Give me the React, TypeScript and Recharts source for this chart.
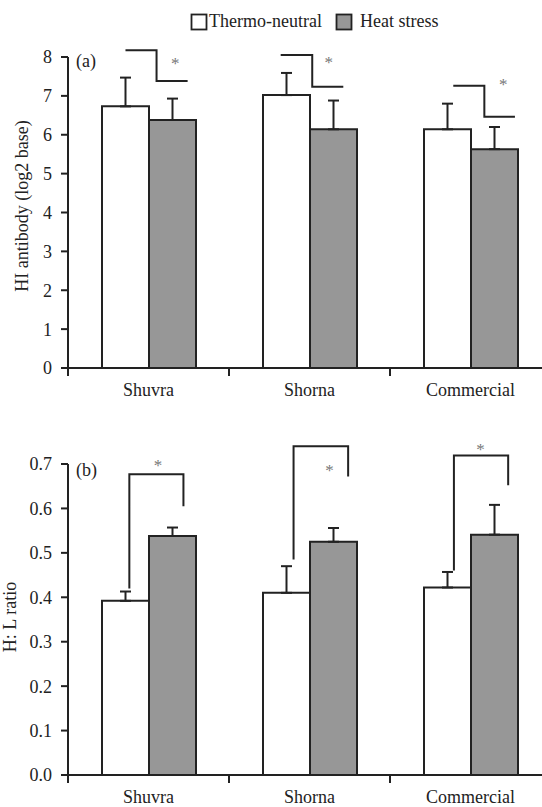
import React from 'react';
import { BarChart, Bar, XAxis, YAxis, ErrorBar, Label, ScatterChart, Scatter } from 'recharts';

const categories = ['Shuvra', 'Shorna', 'Commercial'];
const seriesNames = ['Thermo-neutral', 'Heat stress'];

const hiThermo = [6.73, 7.02, 6.14];
const hiThermoErr = [0.74, 0.57, 0.66];
const hiHeat = [6.38, 6.14, 5.63];
const hiHeatErr = [0.55, 0.74, 0.57];
const hiTicks = [0, 1, 2, 3, 4, 5, 6, 7, 8];

const hlThermo = [0.392, 0.41, 0.422];
const hlThermoErr = [0.021, 0.06, 0.035];
const hlHeat = [0.538, 0.525, 0.541];
const hlHeatErr = [0.019, 0.031, 0.067];
const hlTicks = [0, 0.1, 0.2, 0.3, 0.4, 0.5, 0.6, 0.7];

// significance brackets: polyline points [category-position (0..3), value]
const hiBrackets = [
  [[0.357, 8.17], [0.55, 8.17], [0.55, 7.38], [0.743, 7.38]],
  [[1.321, 8.05], [1.517, 8.05], [1.517, 7.23], [1.71, 7.23]],
  [[2.393, 7.26], [2.586, 7.26], [2.586, 6.46], [2.776, 6.46]],
];
const hiStars = [[0.666, 7.87], [1.619, 7.9], [2.704, 7.32]];

const hlBrackets = [
  [[0.381, 0.421], [0.381, 0.678], [0.717, 0.678], [0.717, 0.606]],
  [[1.401, 0.486], [1.401, 0.741], [1.74, 0.741], [1.74, 0.673]],
  [[2.397, 0.461], [2.397, 0.72], [2.734, 0.72], [2.734, 0.653]],
];
const hlStars = [[0.559, 0.702], [1.624, 0.689], [2.562, 0.738]];

const FONT = '"Liberation Serif", "Times New Roman", serif';
const INK = '#222';
const GRAY = '#979797';
const FS = 18;

const hiData = categories.map((c, i) => ({
  name: c,
  thermo: hiThermo[i],
  thermoErr: [0, hiThermoErr[i]],
  heat: hiHeat[i],
  heatErr: [0, hiHeatErr[i]],
}));
const hlData = categories.map((c, i) => ({
  name: c,
  thermo: hlThermo[i],
  thermoErr: [0, hlThermoErr[i]],
  heat: hlHeat[i],
  heatErr: [0, hlHeatErr[i]],
}));

const CHART_W = 560;
const PLOT_LEFT = 68;
const MARGIN_RIGHT = 9;
const XAXIS_H = 32;
const BAND = (CHART_W - PLOT_LEFT - MARGIN_RIGHT) / categories.length;

const CatTick = (props: any) => {
  const { x, y, payload } = props;
  const bx = x - BAND / 2;
  return (
    <g>
      <line x1={bx} x2={bx} y1={y} y2={y + 8} stroke={INK} strokeWidth={2} />
      <text x={x} y={y + 28} textAnchor="middle" fontSize={FS} fontFamily={FONT} fill={INK}>
        {payload.value}
      </text>
    </g>
  );
};

const Star = (props: any) => (
  <text x={props.cx} y={props.cy + 7} textAnchor="middle" fontSize={17} fontFamily={FONT} fill="#777">
    *
  </text>
);
const NoDot = () => <g />;

type PanelProps = {
  data: any[];
  top: number;
  height: number;
  marginTop: number;
  domain: number[];
  extDomain: number[];
  ticks: number[];
  fmt: (v: number) => string;
  label: string;
  labelX: number;
  labelY: number;
  tag: string;
  tagX: number;
  tagY: number;
  brackets: number[][][];
  stars: number[][];
};

function Panel(p: PanelProps) {
  // overlay with extended domain; scale kept identical to the bar chart
  const plotH = p.height - p.marginTop - XAXIS_H;
  const pxPerUnit = plotH / (p.domain[1] - p.domain[0]);
  const extra = (p.extDomain[1] - p.domain[1]) * pxPerUnit;
  const ovTop = p.top - extra;
  const ovH = p.height + extra;
  const starData = p.stars.map((s) => ({ x: s[0], y: s[1] }));
  return (
    <>
      <div style={{ position: 'absolute', left: 0, top: p.top, width: CHART_W, height: p.height }}>
        <BarChart
          width={CHART_W}
          height={p.height}
          data={p.data}
          margin={{ top: p.marginTop, right: MARGIN_RIGHT, bottom: 0, left: 0 }}
          barGap={0}
        >
          <XAxis
            dataKey="name"
            height={XAXIS_H}
            axisLine={{ stroke: INK, strokeWidth: 2 }}
            tickLine={false}
            tickSize={0}
            tickMargin={0}
            tick={<CatTick />}
            interval={0}
          />
          <YAxis
            width={PLOT_LEFT}
            domain={p.domain}
            ticks={p.ticks}
            interval={0}
            tickFormatter={p.fmt}
            axisLine={{ stroke: INK, strokeWidth: 2 }}
            tickLine={{ stroke: INK, strokeWidth: 2 }}
            tickSize={7}
            tickMargin={9}
            tick={{ fontSize: FS, fontFamily: FONT, fill: INK }}
          >
            <Label
              content={() => (
                <g>
                  <text
                    x={p.labelX}
                    y={p.labelY}
                    transform={`rotate(-90, ${p.labelX}, ${p.labelY})`}
                    textAnchor="middle"
                    dominantBaseline="central"
                    fontSize={FS}
                    fontFamily={FONT}
                    fill={INK}
                  >
                    {p.label}
                  </text>
                  <text x={p.tagX} y={p.tagY} fontSize={FS} fontFamily={FONT} fill={INK}>
                    {p.tag}
                  </text>
                </g>
              )}
            />
          </YAxis>
          <Bar dataKey="thermo" name={seriesNames[0]} fill="#ffffff" stroke={INK} strokeWidth={2} barSize={47} isAnimationActive={false}>
            <ErrorBar dataKey="thermoErr" direction="y" width={5.5} stroke={INK} strokeWidth={2} />
          </Bar>
          <Bar dataKey="heat" name={seriesNames[1]} fill={GRAY} stroke={INK} strokeWidth={2} barSize={47} isAnimationActive={false}>
            <ErrorBar dataKey="heatErr" direction="y" width={5.5} stroke={INK} strokeWidth={2} />
          </Bar>
        </BarChart>
      </div>
      <div style={{ position: 'absolute', left: 0, top: ovTop, width: CHART_W, height: ovH, pointerEvents: 'none' }}>
        <ScatterChart
          width={CHART_W}
          height={ovH}
          margin={{ top: p.marginTop, right: MARGIN_RIGHT, bottom: XAXIS_H, left: PLOT_LEFT }}
        >
          <XAxis type="number" dataKey="x" domain={[0, 3]} hide />
          <YAxis type="number" dataKey="y" domain={p.extDomain} hide />
          {p.brackets.map((b, i) => (
            <Scatter
              key={'b' + i}
              data={b.map((pt) => ({ x: pt[0], y: pt[1] }))}
              line={{ stroke: INK, strokeWidth: 2 }}
              lineType="joint"
              shape={NoDot}
              isAnimationActive={false}
            />
          ))}
          <Scatter data={starData} shape={Star} isAnimationActive={false} />
        </ScatterChart>
      </div>
    </>
  );
}

function LegendBox() {
  return (
    <svg width={542} height={40} style={{ position: 'absolute', left: 0, top: 0 }}>
      <rect x={191.5} y={14.5} width={15} height={15} fill="#fff" stroke={INK} strokeWidth={1.8} />
      <text x={209} y={27} fontSize={FS} fontFamily={FONT} fill={INK}>
        {seriesNames[0]}
      </text>
      <rect x={336.5} y={14.5} width={15} height={15} fill={GRAY} stroke={INK} strokeWidth={1.8} />
      <text x={360} y={27} fontSize={FS} fontFamily={FONT} fill={INK}>
        {seriesNames[1]}
      </text>
    </svg>
  );
}

export default function App() {
  return (
    <div
      style={{
        position: 'absolute',
        left: 0,
        top: 0,
        width: 542,
        height: 807,
        overflow: 'hidden',
        background: '#fff',
      }}
    >
      <Panel
        data={hiData}
        top={0}
        height={400}
        marginTop={57}
        domain={[0, 8]}
        extDomain={[0, 9]}
        ticks={hiTicks}
        fmt={(v) => String(v)}
        label="HI antibody (log2 base)"
        labelX={22}
        labelY={206}
        tag="(a)"
        tagX={76}
        tagY={67}
        brackets={hiBrackets}
        stars={hiStars}
      />
      <Panel
        data={hlData}
        top={420}
        height={387}
        marginTop={44}
        domain={[0, 0.7]}
        extDomain={[0, 0.8]}
        ticks={hlTicks}
        fmt={(v) => v.toFixed(1)}
        label="H: L ratio"
        labelX={10}
        labelY={197}
        tag="(b)"
        tagX={76}
        tagY={56}
        brackets={hlBrackets}
        stars={hlStars}
      />
      <LegendBox />
    </div>
  );
}
